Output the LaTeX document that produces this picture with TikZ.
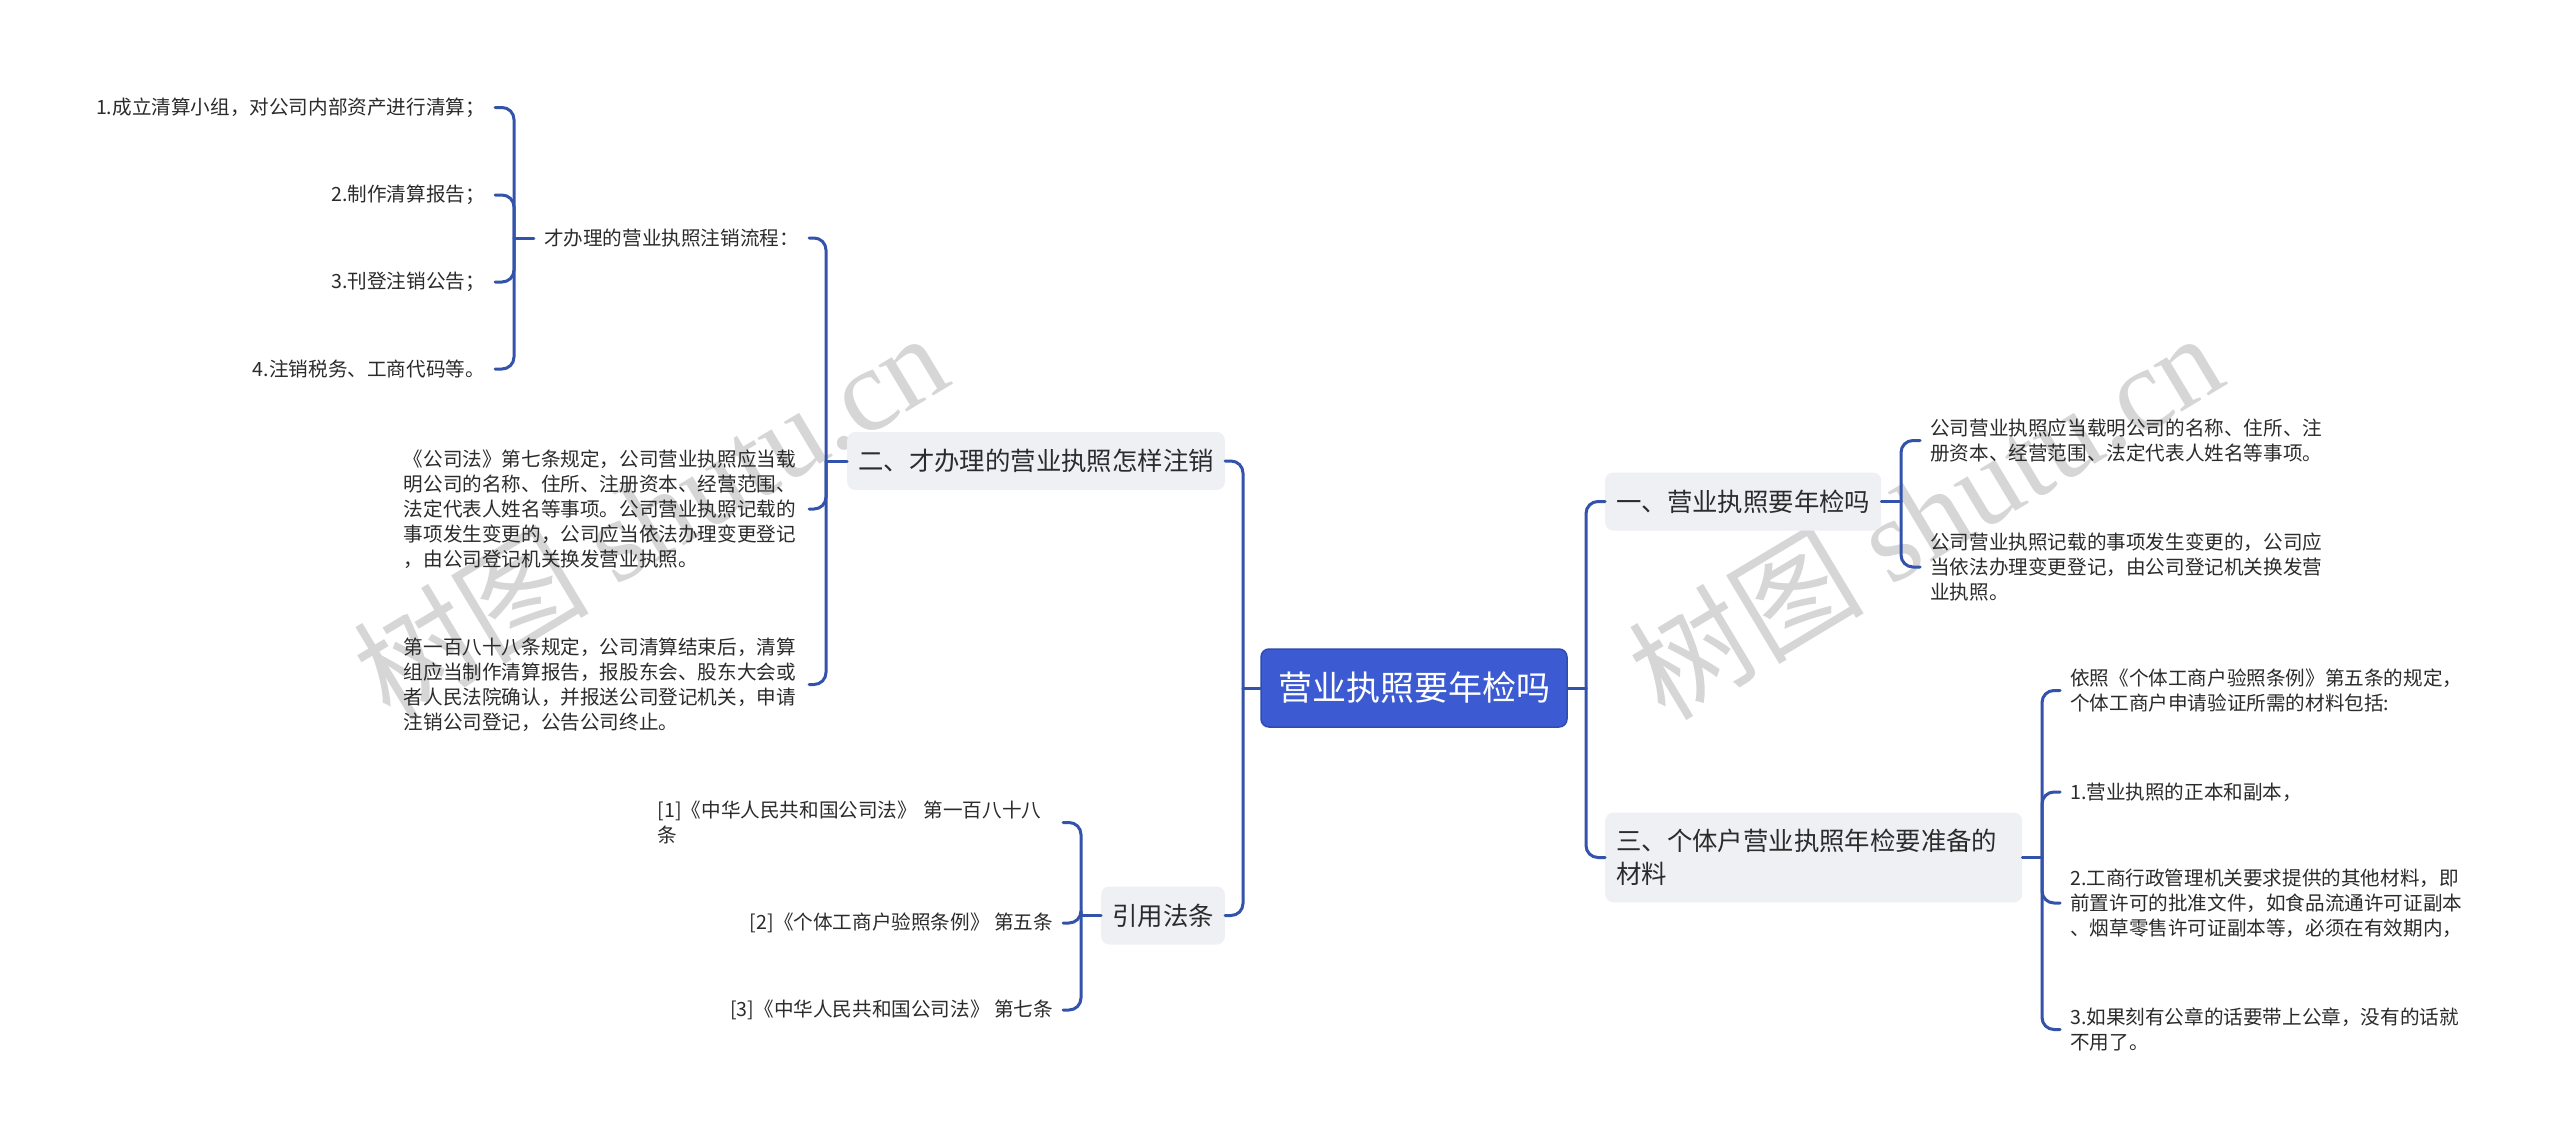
\documentclass[tikz,border=0pt]{standalone}
\usepackage{fontspec}
\setmainfont{Noto Sans CJK SC}
\newfontfamily\wmlatin{Liberation Serif}
\definecolor{edgec}{HTML}{3352AB}
\definecolor{rootc}{HTML}{3C5BD2}
\definecolor{rootb}{HTML}{2F4BB0}
\definecolor{branchc}{HTML}{EEF0F4}
\definecolor{textc}{HTML}{2B2B2B}
\definecolor{wmc}{HTML}{D6D6D6}
\begin{document}
\begin{tikzpicture}[x=1pt,y=-1pt,
  edge/.style={draw=edgec, line width=3pt, rounded corners=12pt, line cap=round},
  rootnode/.style={fill=rootc, draw=rootb, line width=1.5pt, rounded corners=8pt, text=white, font=\fontsize{34}{40}\selectfont, inner xsep=17pt, inner ysep=0pt, minimum height=78pt},
  branch/.style={fill=branchc, rounded corners=8pt, text=textc, font=\fontsize{25.4}{33}\selectfont, inner xsep=11pt, inner ysep=16.5pt, minimum height=58pt, align=left},
  leaf/.style={text=textc, font=\fontsize{19.6}{25}\selectfont, inner xsep=10pt, inner ysep=2pt, align=left},
  wm/.style={text=wmc, rotate=31, font=\fontsize{118}{120}\selectfont}
]
\useasboundingbox[fill=white] (0,0) rectangle (2560,1148);

% watermarks
\node[wm] (wm1) at (650,514) {树图 {\wmlatin shutu.cn}};
\node[wm] (wm2) at (1925,514) {树图 {\wmlatin shutu.cn}};

% main nodes
\node[rootnode] (root) at (1414,688) {营业执照要年检吗};
\node[branch, anchor=west] (b1) at (1605,501.5) {一、营业执照要年检吗};
\node[branch, anchor=west, text width=395pt] (b3) at (1605,857.5) {三、个体户营业执照年检要准备的\\材料};
\node[branch, anchor=east] (b2) at (1225,461) {二、才办理的营业执照怎样注销};
\node[branch, anchor=east] (b4) at (1225,915.5) {引用法条};

% junctions
\coordinate (jr) at (1586,688);
\coordinate (jl) at (1243,688);
\coordinate (j1) at (1901,501.5);
\coordinate (j3) at (2042,857.5);
\coordinate (j2) at (826,461);
\coordinate (j4) at (1081,915.5);
\coordinate (j21) at (514,238);

% right leaves
\node[leaf, anchor=west] (l11) at (1920,440.5) {公司营业执照应当载明公司的名称、住所、注\\册资本、经营范围、法定代表人姓名等事项。};
\node[leaf, anchor=west] (l12) at (1920,567) {公司营业执照记载的事项发生变更的，公司应\\当依法办理变更登记，由公司登记机关换发营\\业执照。};
\node[leaf, anchor=west] (l31) at (2060,690.5) {依照《个体工商户验照条例》第五条的规定，\\个体工商户申请验证所需的材料包括:};
\node[leaf, anchor=west] (l32) at (2060,792) {1.营业执照的正本和副本，};
\node[leaf, anchor=west] (l33) at (2060,903) {2.工商行政管理机关要求提供的其他材料，即\\前置许可的批准文件，如食品流通许可证副本\\、烟草零售许可证副本等，必须在有效期内，};
\node[leaf, anchor=west] (l34) at (2060,1029.5) {3.如果刻有公章的话要带上公章，没有的话就\\不用了。};

% left leaves
\node[leaf, anchor=east] (l21) at (809,238) {才办理的营业执照注销流程：};
\node[leaf, anchor=east, text width=395pt] (l22) at (809,509) {《公司法》第七条规定，公司营业执照应当载\\明公司的名称、住所、注册资本、经营范围、\\法定代表人姓名等事项。公司营业执照记载的\\事项发生变更的，公司应当依法办理变更登记\\，由公司登记机关换发营业执照。};
\node[leaf, anchor=east, text width=395pt] (l23) at (809,684.5) {第一百八十八条规定，公司清算结束后，清算\\组应当制作清算报告，报股东会、股东大会或\\者人民法院确认，并报送公司登记机关，申请\\注销公司登记，公告公司终止。};
\node[leaf, anchor=east] (l211) at (495,107.5) {1.成立清算小组，对公司内部资产进行清算；};
\node[leaf, anchor=east] (l212) at (495,195) {2.制作清算报告；};
\node[leaf, anchor=east] (l213) at (495,282) {3.刊登注销公告；};
\node[leaf, anchor=east] (l214) at (495,369) {4.注销税务、工商代码等。};
\node[leaf, anchor=east, text width=395pt] (l41) at (1063,822.5) {[1]《中华人民共和国公司法》 第一百八十八\\条};
\node[leaf, anchor=east] (l42) at (1063,923) {[2]《个体工商户验照条例》 第五条};
\node[leaf, anchor=east] (l43) at (1063,1010) {[3]《中华人民共和国公司法》 第七条};

% connectors: root
\draw[edge] (root.east) -- (jr);
\draw[edge] (jr) |- (b1.west);
\draw[edge] (jr) |- (b3.west);
\draw[edge] (root.west) -- (jl);
\draw[edge] (jl) |- (b2.east);
\draw[edge] (jl) |- (b4.east);
% branch 1
\draw[edge] (b1.east) -- (j1);
\draw[edge] (j1) |- (l11.west);
\draw[edge] (j1) |- (l12.west);
% branch 3
\draw[edge] (b3.east) -- (j3);
\draw[edge] (j3) |- (l31.west);
\draw[edge] (j3) |- (l32.west);
\draw[edge] (j3) |- (l33.west);
\draw[edge] (j3) |- (l34.west);
% branch 2
\draw[edge] (b2.west) -- (j2);
\draw[edge] (j2) |- (l21.east);
\draw[edge] (j2) |- (l22.east);
\draw[edge] (j2) |- (l23.east);
\draw[edge] (l21.west) -- (j21);
\draw[edge] (j21) |- (l211.east);
\draw[edge] (j21) |- (l212.east);
\draw[edge] (j21) |- (l213.east);
\draw[edge] (j21) |- (l214.east);
% references
\draw[edge] (b4.west) -- (j4);
\draw[edge] (j4) |- (l41.east);
\draw[edge] (j4) |- (l42.east);
\draw[edge] (j4) |- (l43.east);
\end{tikzpicture}
\end{document}
